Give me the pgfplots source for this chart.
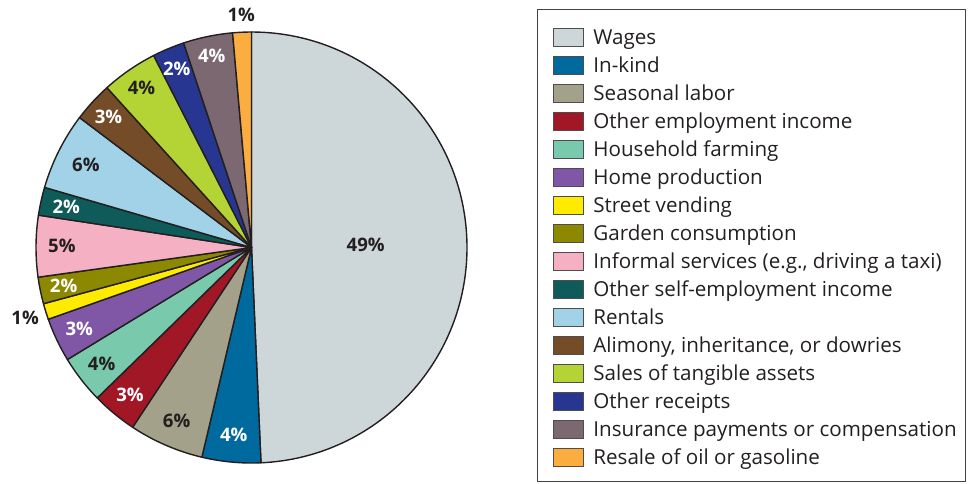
\documentclass[border=0pt]{standalone}
\usepackage{pgfplots}
\pgfplotsset{compat=1.18}
\usepackage{pgfplotstable}
\usepackage{fontspec}
\setmainfont{Open Sans}

% slice colours
\definecolor{edge}{HTML}{231F20}
\definecolor{cWages}{HTML}{CDD6D9}
\definecolor{cInkind}{HTML}{00699E}
\definecolor{cSeasonal}{HTML}{A3A18A}
\definecolor{cOtherEmp}{HTML}{A11726}
\definecolor{cFarming}{HTML}{79CAAC}
\definecolor{cHome}{HTML}{8057A6}
\definecolor{cStreet}{HTML}{FFEB00}
\definecolor{cGarden}{HTML}{8C8800}
\definecolor{cInformal}{HTML}{F6B0C3}
\definecolor{cSelfEmp}{HTML}{0E5B5A}
\definecolor{cRentals}{HTML}{A2D2E7}
\definecolor{cAlimony}{HTML}{744C28}
\definecolor{cSales}{HTML}{B4D334}
\definecolor{cReceipts}{HTML}{263691}
\definecolor{cInsurance}{HTML}{7C6870}
\definecolor{cResale}{HTML}{FBAE3F}

% share of household income by source (percent), clockwise from 12 o'clock
% lr = distance of the value label from the centre, as a fraction of the radius
\pgfplotstableread[col sep=semicolon]{
source;share;colour;ink;lr
Wages;49.3;cWages;edge;0.53
In-kind;4.4;cInkind;white;0.875
Seasonal labor;5.6;cSeasonal;edge;0.875
Other employment income;3.4;cOtherEmp;white;0.885
Household farming;3.6;cFarming;edge;0.88
Home production;3.3;cHome;white;0.885
Street vending;1.2;cStreet;edge;1.1
Garden consumption;2.0;cGarden;white;0.89
Informal services (e.g., driving a taxi);4.6;cInformal;edge;0.88
Other self-employment income;2.1;cSelfEmp;white;0.88
Rentals;5.8;cRentals;edge;0.86
Alimony, inheritance, or dowries;3.0;cAlimony;white;0.9
Sales of tangible assets;4.2;cSales;edge;0.9
Other receipts;2.4;cReceipts;white;0.9
Insurance payments or compensation;3.7;cInsurance;white;0.91
Resale of oil or gasoline;1.4;cResale;edge;1.08
}\incometable

\begin{document}
\fontsize{9.3}{11}\selectfont
\begin{tikzpicture}
\begin{axis}[
  x=0.5pt, y=0.5pt,
  xmin=0, xmax=968, ymin=0, ymax=483,
  y dir=reverse,
  scale only axis,
  hide axis,
  clip=false,
]
\pgfplotsextra{%
  \path (axis cs:0,0) rectangle (axis cs:968,483);
  \def\R{107.75pt}%
  \gdef\cum{0}%
  \pgfplotstablegetrowsof{\incometable}%
  \pgfmathtruncatemacro\lastrow{\pgfplotsretval-1}%
  \foreach \i in {0,...,\lastrow}{%
    \pgfplotstablegetelem{\i}{share}\of\incometable \let\share\pgfplotsretval
    \pgfplotstablegetelem{\i}{colour}\of\incometable \let\slicecol\pgfplotsretval
    \pgfplotstablegetelem{\i}{ink}\of\incometable \let\ink\pgfplotsretval
    \pgfplotstablegetelem{\i}{lr}\of\incometable \let\lr\pgfplotsretval
    \pgfplotstablegetelem{\i}{source}\of\incometable \let\source\pgfplotsretval
    \pgfmathsetmacro\aS{90-3.6*\cum}%
    \pgfmathsetmacro\aE{90-3.6*(\cum+\share)}%
    \pgfmathsetmacro\aM{(\aS+\aE)/2}%
    \pgfmathsetlengthmacro\rl{\lr*\R}%
    \pgfmathtruncatemacro\lab{round(\share)}%
    % pie slice
    \filldraw[fill=\slicecol, draw=edge, line width=0.7pt, line join=round]
      (axis cs:251.5,247.5) -- ++(canvas polar cs:angle=\aS,radius=\R)
      arc[start angle=\aS, end angle=\aE, radius=\R] -- cycle;
    % value label
    \path (axis cs:251.5,247.5) ++(canvas polar cs:angle=\aM,radius=\rl)
      node[text=\ink, font=\bfseries] {\lab\%};
    % legend entry
    \filldraw[fill=\slicecol, draw=edge!80, line width=0.5pt]
      (axis cs:553,{28+28*\i}) rectangle (axis cs:583,{46.5+28*\i});
    \node[anchor=base west, inner sep=0pt, text=edge, font=\fontsize{10.3}{12}\selectfont]
      at (axis cs:593,{44+28*\i}) {\source};
    \pgfmathsetmacro\newcum{\cum+\share}%
    \global\let\cum\newcum
  }%
  % legend frame
  \draw[edge!85, line width=0.6pt] (axis cs:537.5,9.5) rectangle (axis cs:965.5,481.5);
}
\end{axis}
\end{tikzpicture}
\end{document}
